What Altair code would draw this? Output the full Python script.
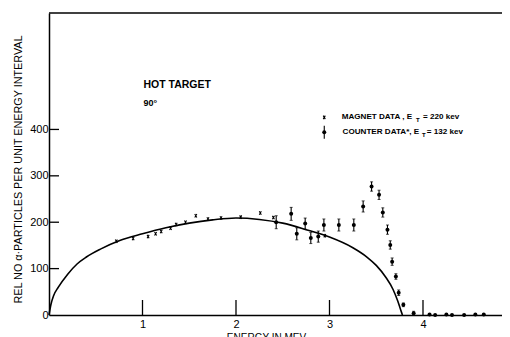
import altair as alt
import pandas as pd

# ---- data ----
curve_x = [0, 0.02, 0.05, 0.1, 0.2, 0.3, 0.4, 0.55, 0.75, 1.0, 1.25, 1.5, 1.75, 2.0,
           2.25, 2.5, 2.75, 3.0, 3.25, 3.4, 3.5, 3.6, 3.68, 3.73, 3.76, 3.78]
curve_y = [0, 22, 42, 60, 88, 110, 125, 142, 160, 175, 188, 198, 205, 209,
           206, 198, 184, 168, 145, 125, 107, 82, 55, 30, 12, 0]

magnet_x = [0.72, 0.90, 1.06, 1.14, 1.20, 1.30, 1.36, 1.46, 1.57, 1.70, 1.84, 2.05, 2.26, 2.40, 2.95]
magnet_y = [159, 165, 169, 175, 180, 187, 195, 200, 214, 207, 209, 211, 220, 210, 171]

counter_x = [2.43, 2.59, 2.65, 2.74, 2.80, 2.88, 2.94, 3.10, 3.26, 3.36, 3.45, 3.53, 3.57,
             3.62, 3.65, 3.67, 3.71, 3.74, 3.79, 3.90, 4.07, 4.13, 4.25, 4.31, 4.44, 4.56, 4.65]
counter_y = [200, 218, 175, 197, 166, 169, 194, 194, 194, 234, 277, 259, 221,
             184, 151, 115, 83, 48, 22, 4, 1, 0, 1, 0, 0, 1, 1]
counter_err = [14, 14, 13, 12, 12, 12, 13, 13, 13, 12, 10, 10, 10,
               10, 9, 8, 6, 6, 4, 4, 0, 0, 0, 0, 0, 0, 0]

y_ticks = [100, 200, 300, 400]
y_labels = [0, 100, 200, 300, 400]
x_ticks = [1, 2, 3, 4]

W, H = 453, 302
XMAX, YMAX = 4.845, 651
FONT = "Liberation Sans"

xs = alt.Scale(domain=[0, XMAX], nice=False, zero=False)
ys = alt.Scale(domain=[0, YMAX], nice=False, zero=False)

curve_df = pd.DataFrame({"e": curve_x, "n": curve_y})
mag_df = pd.DataFrame({"e": magnet_x, "n": magnet_y})
cnt_df = pd.DataFrame({"e": counter_x, "n": counter_y, "err": counter_err})
cnt_df["lo"] = cnt_df["n"] - cnt_df["err"]
cnt_df["hi"] = cnt_df["n"] + cnt_df["err"]
cnt_bar = cnt_df[cnt_df["err"] > 0]

X = alt.X("e:Q", scale=xs)
Y = alt.Y("n:Q", scale=ys)

curve = alt.Chart(curve_df).mark_line(color="black", strokeWidth=1.6, interpolate="monotone").encode(
    x=alt.X("e:Q", scale=xs, axis=alt.Axis(
        values=x_ticks, format="d", ticks=False, grid=False, domainColor="black", domainWidth=1.5,
        labelFont=FONT, labelFontSize=11, labelColor="black", labelPadding=3,
        title="ENERGY IN MEV", titleFont=FONT, titleFontSize=10, titleFontWeight="normal",
        titleColor="black", titleX=217, titleY=22, titleBaseline="middle", titleAlign="center")),
    y=alt.Y("n:Q", scale=ys, axis=alt.Axis(
        values=y_labels, format="d", ticks=False, grid=False, domainColor="black", domainWidth=1.5,
        labelFont=FONT, labelFontSize=11, labelColor="black", labelPadding=1,
        title="REL NO α·PARTICLES PER UNIT ENERGY INTERVAL", titleFont=FONT, titleFontSize=10.8,
        titleFontWeight="normal", titleColor="black", titleX=-31, titleY=156,
        titleBaseline="middle", titleAlign="center", titleAngle=-90)),
)

XSHAPE = "M-0.6,-1L0.6,1M0.6,-1L-0.6,1"

mag = alt.Chart(mag_df).mark_point(
    shape=XSHAPE, size=12, color="black", strokeWidth=1.1, filled=False, opacity=1
).encode(x=X, y=Y)

bars = alt.Chart(cnt_bar).mark_rule(color="black", strokeWidth=1.1).encode(
    x=X, y=alt.Y("lo:Q", scale=ys), y2="hi:Q")
caps_lo = alt.Chart(cnt_bar).mark_tick(color="black", orient="horizontal", size=3, thickness=1).encode(
    x=X, y=alt.Y("lo:Q", scale=ys))
caps_hi = alt.Chart(cnt_bar).mark_tick(color="black", orient="horizontal", size=3, thickness=1).encode(
    x=X, y=alt.Y("hi:Q", scale=ys))
pts = alt.Chart(cnt_df).mark_circle(color="black", size=16, opacity=1).encode(x=X, y=Y)

xt = alt.Chart(pd.DataFrame({"e": x_ticks})).mark_rule(color="black", strokeWidth=1.3).encode(
    x=X, y=alt.value(H - 15), y2=alt.value(H + 1))
yt = alt.Chart(pd.DataFrame({"n": y_ticks})).mark_rule(color="black", strokeWidth=1.3).encode(
    y=Y, x=alt.value(0), x2=alt.value(10))
top = alt.Chart(pd.DataFrame({"a": [0]})).mark_rule(color="black", strokeWidth=1.5).encode(
    x=alt.value(0), x2=alt.value(W + 20), y=alt.value(0))

ann_df = pd.DataFrame({
    "e": [1.01, 1.01, 3.13, 3.925, 4.0, 3.14, 3.99, 4.04],
    "n": [496, 457, 426, 421, 426, 394, 389, 394],
    "t": ["HOT  TARGET", "90°", "MAGNET  DATA  ,  E", "T", "= 220 kev",
          "COUNTER  DATA*,  E", "T", "= 132 kev"],
    "s": [10.5, 9, 8.1, 6, 8.1, 8.1, 6, 8.1],
})
ann = alt.Chart(ann_df).mark_text(align="left", baseline="middle", font=FONT, fontWeight="bold",
                                   color="black").encode(
    x=X, y=Y, text="t:N", size=alt.Size("s:Q", scale=None, legend=None))

leg_df = pd.DataFrame({"e": [2.944], "n": [426]})
leg_mag = alt.Chart(leg_df).mark_point(
    shape=XSHAPE, size=12, color="black", strokeWidth=1.1, filled=False, opacity=1
).encode(x=X, y=Y)
leg_c = pd.DataFrame({"e": [2.944], "n": [394], "lo": [380], "hi": [408]})
leg_bar = alt.Chart(leg_c).mark_rule(color="black", strokeWidth=1.1).encode(
    x=X, y=alt.Y("lo:Q", scale=ys), y2="hi:Q")
leg_pt = alt.Chart(leg_c).mark_circle(color="black", size=16, opacity=1).encode(x=X, y=Y)

chart = alt.layer(curve, mag, bars, caps_lo, caps_hi, pts, xt, yt, top, ann,
                  leg_mag, leg_bar, leg_pt).properties(
    width=W, height=H,
    autosize=alt.AutoSizeParams(type="none"),
    padding={"left": 41, "top": 5, "right": 0, "bottom": 22},
    background="white",
).configure_view(stroke=None)

chart.save("out.html", embed_options={"renderer": "svg", "actions": False})
